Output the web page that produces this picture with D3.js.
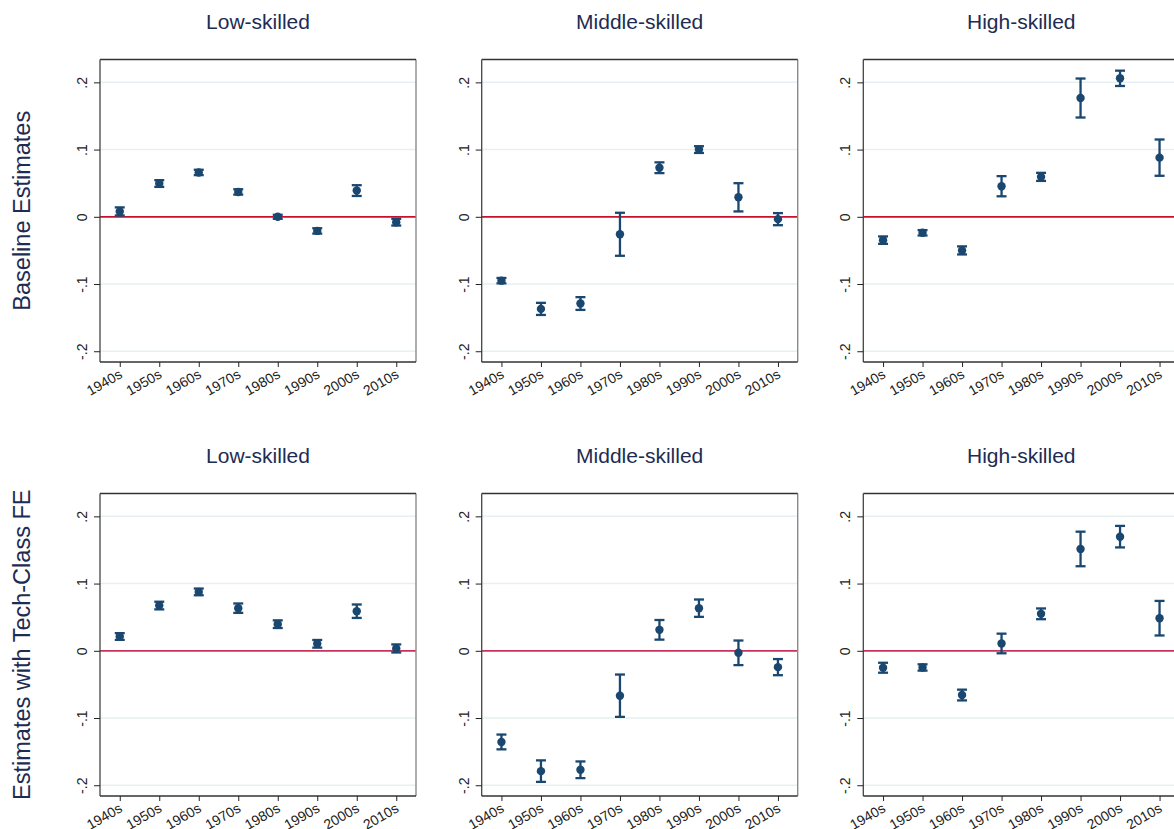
<!DOCTYPE html>
<head>
  <meta charset="utf-8">
  <script src="https://d3js.org/d3.v7.min.js"></script>
  <style>
    body { margin: 0; background: #fff; }
    text { font-family: Arial, "Liberation Sans", Helvetica, sans-serif; }
    text.title { font-size: 21px; fill: #1d2c52; }
    text.rowLabel { font-size: 23.5px; fill: #1d2c52; }
    .tick text { font-size: 14px; fill: #222; }
    .tick line { stroke: #222; }
    path.domain { display: none; }
  </style>
</head>
<body>
  <script>
    // decades on the x axis, ticks on y
    const decades = ["1940s", "1950s", "1960s", "1970s", "1980s", "1990s", "2000s", "2010s"];
    const skillGroups = ["Low-skilled", "Middle-skilled", "High-skilled"];
    const rowLabels = ["Baseline Estimates", "Estimates with Tech-Class FE"];
    const yTicks = [-0.2, -0.1, 0, 0.1, 0.2];
    const yTickLabels = ["-.2", "-.1", "0", ".1", ".2"];

    // point estimates and CI half-widths
    const baseLow = [0.008, 0.0495, 0.066, 0.037, 0.000, -0.021, 0.039, -0.008];
    const baseLowCI = [0.006, 0.005, 0.004, 0.004, 0.003, 0.004, 0.008, 0.005];
    const baseMid = [-0.095, -0.137, -0.129, -0.026, 0.073, 0.100, 0.029, -0.0035];
    const baseMidCI = [0.004, 0.009, 0.0095, 0.032, 0.008, 0.005, 0.021, 0.009];
    const baseHigh = [-0.0347, -0.0238, -0.050, 0.0455, 0.0594, 0.1767, 0.206, 0.088];
    const baseHighCI = [0.0055, 0.004, 0.006, 0.015, 0.006, 0.029, 0.0114, 0.027];
    const techLow = [0.0213, 0.0673, 0.0876, 0.0634, 0.0396, 0.0104, 0.0589, 0.0035];
    const techLowCI = [0.005, 0.0057, 0.005, 0.007, 0.0057, 0.0057, 0.010, 0.006];
    const techMid = [-0.1356, -0.179, -0.177, -0.0668, 0.0312, 0.0634, -0.003, -0.0243];
    const techMidCI = [0.011, 0.016, 0.0124, 0.0315, 0.0146, 0.0129, 0.0183, 0.012];
    const techHigh = [-0.0252, -0.0248, -0.0658, 0.0109, 0.055, 0.1515, 0.1698, 0.0485];
    const techHighCI = [0.0074, 0.0047, 0.008, 0.0146, 0.008, 0.0257, 0.016, 0.0257];

    const panels = [
      [[baseLow, baseLowCI], [baseMid, baseMidCI], [baseHigh, baseHighCI]],
      [[techLow, techLowCI], [techMid, techMidCI], [techHigh, techHighCI]]
    ];

    const width = 1174, height = 829;
    const colLeft = [100, 481.7, 863.3];
    const rowTop = [59.5, 493.5];
    const boxW = 316, boxH = 302.5;
    const navy = "#1a476f";
    const zeroColour = ["#c8102e", "#c7335c"];

    const svg = d3.select("body").append("svg")
      .attr("width", width)
      .attr("height", height);

    const x = d3.scalePoint().domain(decades).range([0, boxW]).padding(0.5);
    const y = d3.scaleLinear().domain([-0.216, 0.234]).range([boxH, 0]);

    const yAxis = d3.axisLeft(y)
      .tickValues(yTicks)
      .tickSize(6)
      .tickFormat((d, i) => yTickLabels[i]);

    const xAxis = d3.axisBottom(x).tickSize(5);

    rowLabels.forEach((label, r) => {
      svg.append("text")
        .attr("class", "rowLabel")
        .attr("transform", `translate(30,${rowTop[r] + boxH / 2}) rotate(-90)`)
        .style("text-anchor", "middle")
        .text(label);

      skillGroups.forEach((group, c) => {
        const [est, ci] = panels[r][c];
        const data = decades.map((d, i) => ({ decade: d, v: est[i], ci: ci[i] }));

        const g = svg.append("g")
          .attr("transform", `translate(${colLeft[c]},${rowTop[r]})`);

        svg.append("text")
          .attr("class", "title")
          .attr("x", colLeft[c] + boxW / 2)
          .attr("y", rowTop[r] - 31)
          .style("text-anchor", "middle")
          .text(group);

        // grid lines
        g.selectAll("line.grid")
          .data(yTicks.filter(t => t !== 0))
          .enter().append("line")
          .attr("class", "grid")
          .attr("x1", 0).attr("x2", boxW)
          .attr("y1", d => y(d)).attr("y2", d => y(d))
          .attr("stroke", "#e6eff1")
          .attr("stroke-width", 1.5);

        // zero line
        g.append("line")
          .attr("x1", 0).attr("x2", boxW)
          .attr("y1", y(0)).attr("y2", y(0))
          .attr("stroke", zeroColour[r])
          .attr("stroke-width", 1.8);

        // frame
        g.append("line").attr("x1", boxW).attr("x2", boxW).attr("y1", 0).attr("y2", boxH)
          .attr("stroke", "#8a8a8a").attr("stroke-width", 1.4);
        g.append("line").attr("x1", 0).attr("x2", boxW).attr("y1", 0).attr("y2", 0)
          .attr("stroke", "#333").attr("stroke-width", 1.3);
        g.append("line").attr("x1", 0).attr("x2", 0).attr("y1", 0).attr("y2", boxH)
          .attr("stroke", "#444").attr("stroke-width", 1.3);
        g.append("line").attr("x1", 0).attr("x2", boxW).attr("y1", boxH).attr("y2", boxH)
          .attr("stroke", "#333").attr("stroke-width", 1.3);

        g.append("g")
          .attr("class", "axis yAxis")
          .call(yAxis)
          .selectAll(".tick text")
          .attr("x", null)
          .attr("dy", null)
          .style("text-anchor", "middle")
          .attr("transform", "translate(-13,0) rotate(-90)");

        g.append("g")
          .attr("class", "axis xAxis")
          .attr("transform", `translate(0,${boxH})`)
          .call(xAxis)
          .selectAll(".tick text")
          .attr("y", null)
          .attr("dy", null)
          .style("text-anchor", "end")
          .attr("transform", "translate(3,15) rotate(-30)");

        // confidence intervals
        const bars = g.selectAll("g.ci")
          .data(data)
          .enter().append("g")
          .attr("class", "ci")
          .attr("stroke", navy)
          .attr("stroke-width", 2.3);

        bars.append("line")
          .attr("x1", d => x(d.decade)).attr("x2", d => x(d.decade))
          .attr("y1", d => y(d.v - d.ci)).attr("y2", d => y(d.v + d.ci));
        bars.append("line")
          .attr("x1", d => x(d.decade) - 5).attr("x2", d => x(d.decade) + 5)
          .attr("y1", d => y(d.v + d.ci)).attr("y2", d => y(d.v + d.ci));
        bars.append("line")
          .attr("x1", d => x(d.decade) - 5).attr("x2", d => x(d.decade) + 5)
          .attr("y1", d => y(d.v - d.ci)).attr("y2", d => y(d.v - d.ci));

        g.selectAll("circle.pt")
          .data(data)
          .enter().append("circle")
          .attr("class", "pt")
          .attr("cx", d => x(d.decade))
          .attr("cy", d => y(d.v))
          .attr("r", 4.2)
          .attr("fill", navy);
      });
    });
  </script>
</body>
